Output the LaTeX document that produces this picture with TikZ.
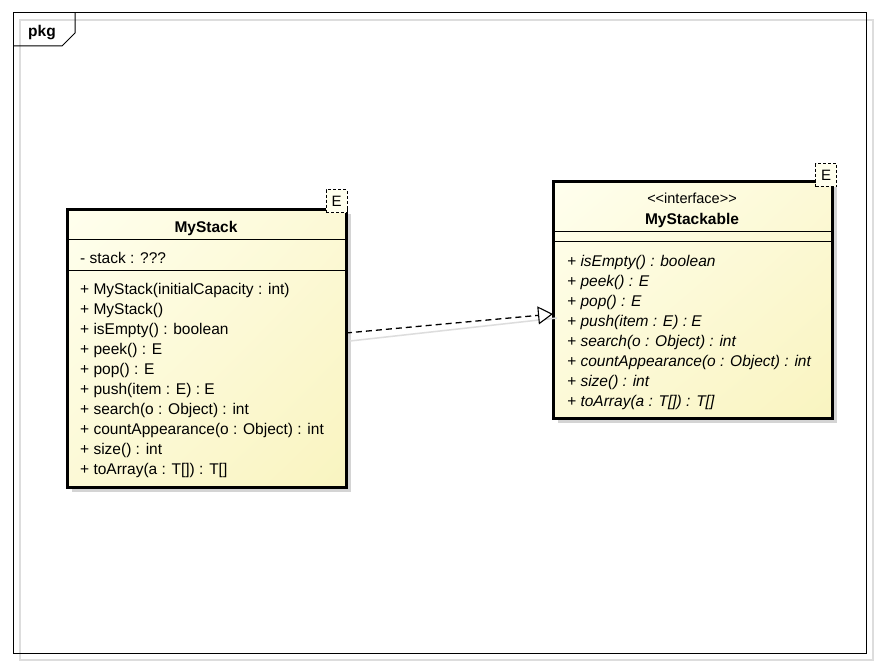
\documentclass[tikz,border=0pt]{standalone}
\usepackage{fontspec}
\setmainfont{Liberation Sans}
\usetikzlibrary{arrows.meta,calc,shadings}
\definecolor{shadowgray}{HTML}{D4D4D4}
\definecolor{framegray}{HTML}{DDDDDD}
\definecolor{fillA}{HTML}{FFFFEE}
\definecolor{fillB}{HTML}{FCF9D6}
\definecolor{fillC}{HTML}{F9F4C0}
\tikzset{
  classbox/.style={draw=black, line width=3pt, inner sep=0pt, outer sep=0pt},
  boxshadow/.style={fill=shadowgray, draw=none},
  sepline/.style={draw=black, line width=1pt},
  tparam/.style={draw=black, dashed, dash pattern=on 3pt off 2pt, line width=0.8pt, fill=fillA, inner sep=0pt, minimum width=21pt, minimum height=23pt, font=\fontsize{15}{15}\selectfont, text depth=0pt},
  member/.style={anchor=base west, inner sep=0pt, font=\fontsize{15.5}{16}\selectfont},
  amember/.style={member, font=\fontsize{15.5}{16}\selectfont\itshape},
  title/.style={anchor=base, inner sep=0pt, font=\fontsize{15.5}{16}\selectfont\bfseries},
  stereo/.style={anchor=base, inner sep=0pt, font=\fontsize{14.5}{16}\selectfont},
  realize/.style={draw=black, line width=1.3pt, dash pattern=on 6pt off 4pt, -{Triangle[open, length=15pt, width=18pt, fill=white, line width=1.1pt]}},
  realshadow/.style={draw=framegray, line width=1.5pt}
}
\begin{document}
\begin{tikzpicture}[x=1pt, y=-1pt]
\useasboundingbox (0,0) rectangle (880,666);
\fill[white] (0,0) rectangle (880,666);
% frame
\draw[framegray, line width=1.5pt] (20,20) rectangle (873,660);
\draw[black, line width=1pt] (13,13) rectangle (866,653);
\draw[black, line width=1pt] (13,46) -- (62,46) -- (75,33) -- (75,13);
\node[anchor=base, inner sep=0pt, font=\fontsize{15.5}{16}\selectfont\bfseries] (pkg) at (42,37) {pkg};

% MyStack
\fill[boxshadow] (72,214) rectangle (351,492);
\shade[upper left=fillA, upper right=fillB, lower left=fillB, lower right=fillC] (67,209) rectangle (346,487);
\node[classbox, minimum width=279pt, minimum height=278pt] (stack) at (206.5,348) {};
\draw[sepline] (67,239.5) -- (346,239.5);
\draw[sepline] (67,270.5) -- (346,270.5);
\node[tparam] (stackE) at (336.5,201) {E};
\node[title] (stackT) at (206,232) {MyStack};
\node[member] (sa1) at (80,263) {- stack : ???};
\node[member] (sm1) at (80,294) {+ MyStack(initialCapacity : int)};
\node[member] (sm2) at (80,314) {+ MyStack()};
\node[member] (sm3) at (80,334) {+ isEmpty() : boolean};
\node[member] (sm4) at (80,354) {+ peek() : E};
\node[member] (sm5) at (80,374) {+ pop() : E};
\node[member] (sm6) at (80,394) {+ push(item : E) : E};
\node[member] (sm7) at (80,414) {+ search(o : Object) : int};
\node[member] (sm8) at (80,434) {+ countAppearance(o : Object) : int};
\node[member] (sm9) at (80,454) {+ size() : int};
\node[member] (sm10) at (80,474) {+ toArray(a : T[]) : T[]};

% MyStackable
\fill[boxshadow] (558,186) rectangle (837,423);
\shade[upper left=fillA, upper right=fillB, lower left=fillB, lower right=fillC] (553,181) rectangle (832,418);
\node[classbox, minimum width=279pt, minimum height=237pt] (able) at (692.5,299.5) {};
\draw[sepline] (553,231.5) -- (832,231.5);
\draw[sepline] (553,241.5) -- (832,241.5);
\node[tparam] (ableE) at (826,175) {E};
\node[stereo] (ableS) at (692,203) {<{}<interface>{}>};
\node[title] (ableT) at (692,224) {MyStackable};
\node[amember] (am1) at (567,266) {+ isEmpty() : boolean};
\node[amember] (am2) at (567,286) {+ peek() : E};
\node[amember] (am3) at (567,306) {+ pop() : E};
\node[amember] (am4) at (567,326) {+ push(item : E) : E};
\node[amember] (am5) at (567,346) {+ search(o : Object) : int};
\node[amember] (am6) at (567,366) {+ countAppearance(o : Object) : int};
\node[amember] (am7) at (567,386) {+ size() : int};
\node[amember] (am8) at (567,406) {+ toArray(a : T[]) : T[]};

% realization
\path (stack.north east) ++(0,124) coordinate (src);
\path (able.north west) ++(0,133) coordinate (dst);
\path (stack.north east) ++(4,132) coordinate (srcsh);
\path (able.north west) ++(4,137) coordinate (dstsh);
\draw[realshadow] (srcsh) -- (dstsh);
\draw[realize] (src) -- (dst);
\end{tikzpicture}
\end{document}
